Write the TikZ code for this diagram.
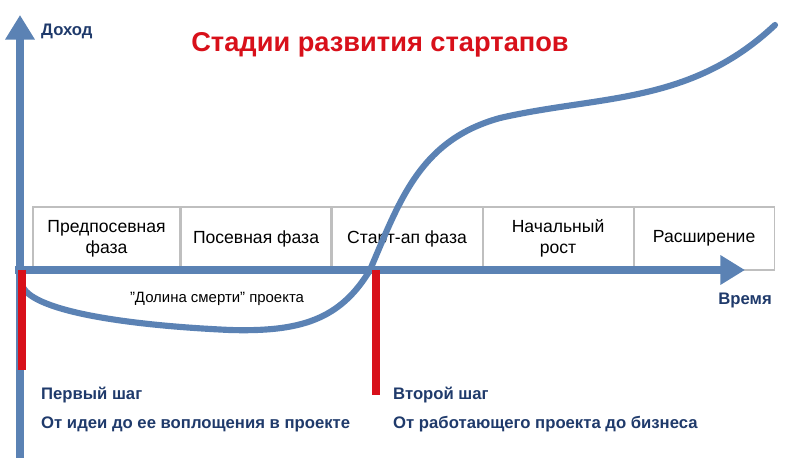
\documentclass[tikz,border=0pt]{standalone}
\usepackage{fontspec}
\setmainfont{Liberation Sans}
\usetikzlibrary{arrows.meta,positioning}
\definecolor{axisblue}{HTML}{5B82B4}
\definecolor{navy}{HTML}{1F3A6B}
\definecolor{redline}{HTML}{D8101A}
\tikzset{
     axis/.style = { line width=5pt, color=axisblue, -{Triangle[length=14pt,width=16pt]} },
    curve/.style = { line width=3.5pt, color=axisblue, line cap=round },
  redstep/.style = { line width=4pt, color=redline },
    phase/.style = { draw=gray!50, line width=0.6pt, minimum width=3cm, minimum height=1.26cm,
                     align=center, font=\fontsize{10}{12}\selectfont, inner sep=0pt },
    label/.style = { font=\bfseries\fontsize{9.5}{11}\selectfont, color=navy, anchor=west }
}
\begin{document}
\begin{tikzpicture}[x=0.02cm,y=-0.02cm]
  \useasboundingbox (0,0) rectangle (796,462);

  % phases
  \node[phase, minimum width=2.94cm] (p1) at (106.5,238.5) {Предпосевная\\фаза};
  \node[phase, right=0pt of p1] (p2) {Посевная фаза};
  \node[phase, right=0pt of p2] (p3) {Старт-ап фаза};
  \node[phase, right=0pt of p3] (p4) {Начальный\\рост};
  \node[phase, right=0pt of p4, minimum width=2.8cm] (p5) {Расширение};

  % axes
  \coordinate (o) at (20,270);
  \coordinate (ytop) at (20,15);
  \coordinate (xend) at (745,270);
  \draw[axis] (20,458) -- (ytop);
  \draw[axis] (15,270) -- (xend);

  % curve
  \draw[curve] (22,285) .. controls (30,310) and (120,325) .. (230,330)
     .. controls (300,332) and (340,320) .. (370,270)
     .. controls (400,200) and (420,140) .. (500,118)
     .. controls (600,95) and (690,105) .. (775,25);

  % steps
  \coordinate (s1) at (22,370);
  \coordinate (s2) at (376,395);
  \draw[redstep] (22,270) -- (s1);
  \draw[redstep] (376,270) -- (s2);

  % texts
  \node[font=\bfseries\fontsize{15.5}{18}\selectfont, color=redline] (title) at (380,45) {Стадии развития стартапов};
  \node[label] (income) at (35,31) {Доход};
  \node[label, anchor=east] (time) at (778,300) {Время};
  \node[font=\fontsize{8.5}{10}\selectfont] (valley) at (217,299) {\char"22Долина смерти\char"22{} проекта};
  \node[label] (first) at (35,395) {Первый шаг};
  \node[label] (firstd) at (35,424) {От идеи до ее воплощения в проекте};
  \node[label] (second) at (387,395) {Второй шаг};
  \node[label] (secondd) at (387,424) {От работающего проекта до бизнеса};
\end{tikzpicture}
\end{document}
